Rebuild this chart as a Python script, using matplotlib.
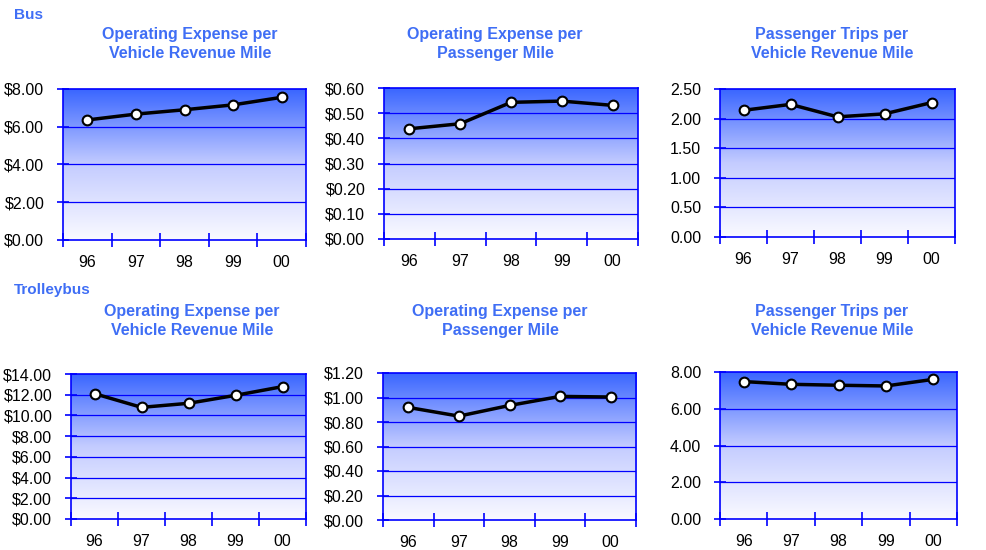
import numpy as np
import matplotlib.pyplot as plt
from matplotlib.colors import LinearSegmentedColormap
from matplotlib.ticker import FuncFormatter

plt.rcParams['font.family'] = ['Liberation Sans', 'DejaVu Sans']

# data
years = ['96', '97', '98', '99', '00']
bus_oe_vrm = [6.36, 6.67, 6.90, 7.16, 7.56]
bus_oe_pm = [0.438, 0.458, 0.543, 0.548, 0.531]
bus_trips_vrm = [2.14, 2.24, 2.03, 2.08, 2.27]
tb_oe_vrm = [12.10, 10.78, 11.17, 11.94, 12.78]
tb_oe_pm = [0.919, 0.848, 0.935, 1.009, 1.004]
tb_trips_vrm = [7.48, 7.33, 7.28, 7.24, 7.60]

title_vrm = 'Operating Expense per\nVehicle Revenue Mile'
title_pm = 'Operating Expense per\nPassenger Mile'
title_trips = 'Passenger Trips per\nVehicle Revenue Mile'

W, H = 986, 550
fig = plt.figure(figsize=(W / 100, H / 100), dpi=100)

title_col = '#3F6EF5'
blue = '#0000FF'
grad = LinearSegmentedColormap.from_list('g', ['#FAFAFF', '#C4CCFF', '#3A66FF'])

money = FuncFormatter(lambda v, p: '${:.2f}'.format(v))
plain = FuncFormatter(lambda v, p: '{:.2f}'.format(v))

# (data, ymax, ystep, formatter, axes box in px: x0, y0, x1, y1, title, title centre x, title y)
panels = [
    (bus_oe_vrm, 8, 2, money, (63, 89, 306, 240), title_vrm, 190, 44),
    (bus_oe_pm, 0.6, 0.1, money, (384, 88, 638, 239), title_pm, 495, 44),
    (bus_trips_vrm, 2.5, 0.5, plain, (720, 89, 955, 237), title_trips, 832, 44),
    (tb_oe_vrm, 14, 2, money, (71, 374, 306, 519), title_vrm, 192, 321),
    (tb_oe_pm, 1.2, 0.2, money, (383, 373, 636, 520), title_pm, 500, 321),
    (tb_trips_vrm, 8, 2, plain, (720, 372, 957, 519), title_trips, 832, 321),
]

for vals, ymax, step, fmt, box, title, tx, ty in panels:
    x0, y0, x1, y1 = box
    ax = fig.add_axes([x0 / W, 1 - y1 / H, (x1 - x0) / W, (y1 - y0) / H])
    x = np.arange(len(years))
    ax.set_xlim(-0.5, len(years) - 0.5)
    ax.set_ylim(0, ymax)
    ax.imshow(np.linspace(0, 1, 256).reshape(-1, 1), cmap=grad, origin='lower',
              aspect='auto', extent=[-0.5, len(years) - 0.5, 0, ymax], zorder=0)
    yt = np.arange(0, ymax + step / 2, step)
    ax.set_yticks(yt)
    ax.yaxis.set_major_formatter(fmt)
    for v in yt[1:-1]:
        ax.axhline(v, color=blue, lw=0.9, zorder=1)
    ax.plot(x, vals, color='black', lw=2.5, marker='o', ms=7,
            mfc='white', mec='black', mew=1.5, zorder=3)
    ax.set_xticks(np.arange(-0.5, len(years), 1))
    ax.set_xticklabels([])
    ax.set_xticks(x, minor=True)
    ax.set_xticklabels(years, minor=True)
    ax.tick_params(axis='x', which='major', direction='inout', length=10,
                   color=blue, width=1.2)
    ax.tick_params(axis='x', which='minor', length=0, pad=11, labelsize=11.5)
    ax.tick_params(axis='y', direction='inout', length=9, color=blue,
                   width=1.2, labelsize=11.5, pad=9)
    for s in ax.spines.values():
        s.set_color(blue)
        s.set_linewidth(1.2)
    fig.text(tx / W, 1 - ty / H, title, ha='center', va='center',
             color=title_col, fontsize=11.5, fontweight='bold', linespacing=1.3)

fig.text(14 / W, 1 - 15 / H, 'Bus', ha='left', va='center',
         color=title_col, fontsize=11, fontweight='bold')
fig.text(14 / W, 1 - 290 / H, 'Trolleybus', ha='left', va='center',
         color=title_col, fontsize=11, fontweight='bold')

fig.savefig('out.png', dpi=100)
